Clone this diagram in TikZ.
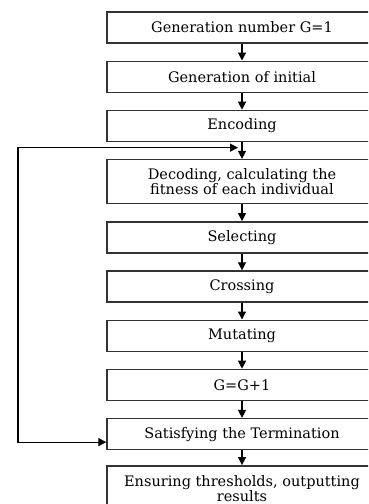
\documentclass[tikz,border=0pt]{standalone}
\usepackage{fontspec}
\setmainfont{DejaVu Serif}
\usetikzlibrary{arrows.meta,calc,positioning}
\tikzset{
  >={Triangle[length=8pt,width=8pt]},
  every node/.style={font=\fontsize{14.5}{16}\selectfont},
  stepbox/.style={draw=black!80,line width=1.4pt,fill=white,minimum width=270pt,minimum height=31pt,inner sep=2pt,align=center},
  flow/.style={->,line width=1.2pt},
}
\begin{document}
\begin{tikzpicture}[x=1pt,y=1pt,node distance=16.8pt]
  \useasboundingbox (0,0) rectangle (368,-504);
  \clip (0,0) rectangle (368,-504);
  \node[stepbox] (gen) at (242,-27.5) {Generation number G=1};
  \node[stepbox,below=of gen] (init) {Generation of initial};
  \node[stepbox,below=of init] (enc) {Encoding};
  \node[stepbox,below=of enc,minimum height=44pt] (dec) {Decoding, calculating the\\[-1pt]fitness of each individual};
  \node[stepbox,below=of dec] (sel) {Selecting};
  \node[stepbox,below=of sel] (cross) {Crossing};
  \node[stepbox,below=of cross] (mut) {Mutating};
  \node[stepbox,below=of mut] (inc) {G=G+1};
  \node[stepbox,below=of inc] (term) {Satisfying the Termination};
  \node[stepbox,below=of term,minimum height=46pt,yshift=2pt] (out) {Ensuring thresholds, outputting\\[-1pt]results};
  % straight chain
  \foreach \a/\b in {gen/init,init/enc,enc/dec,dec/sel,sel/cross,cross/mut,mut/inc,inc/term,term/out}
    \draw[flow] (\a) -- (\b);
  % feedback loop
  \coordinate (join) at ($(enc.south)!0.33!(dec.north)+(-4,0)$);
  \coordinate (back) at ($(term.west)+(0,-8)$);
  \draw[<->,line width=1.2pt] (back) -- (18,0 |- back) |- (join);
\end{tikzpicture}
\end{document}
